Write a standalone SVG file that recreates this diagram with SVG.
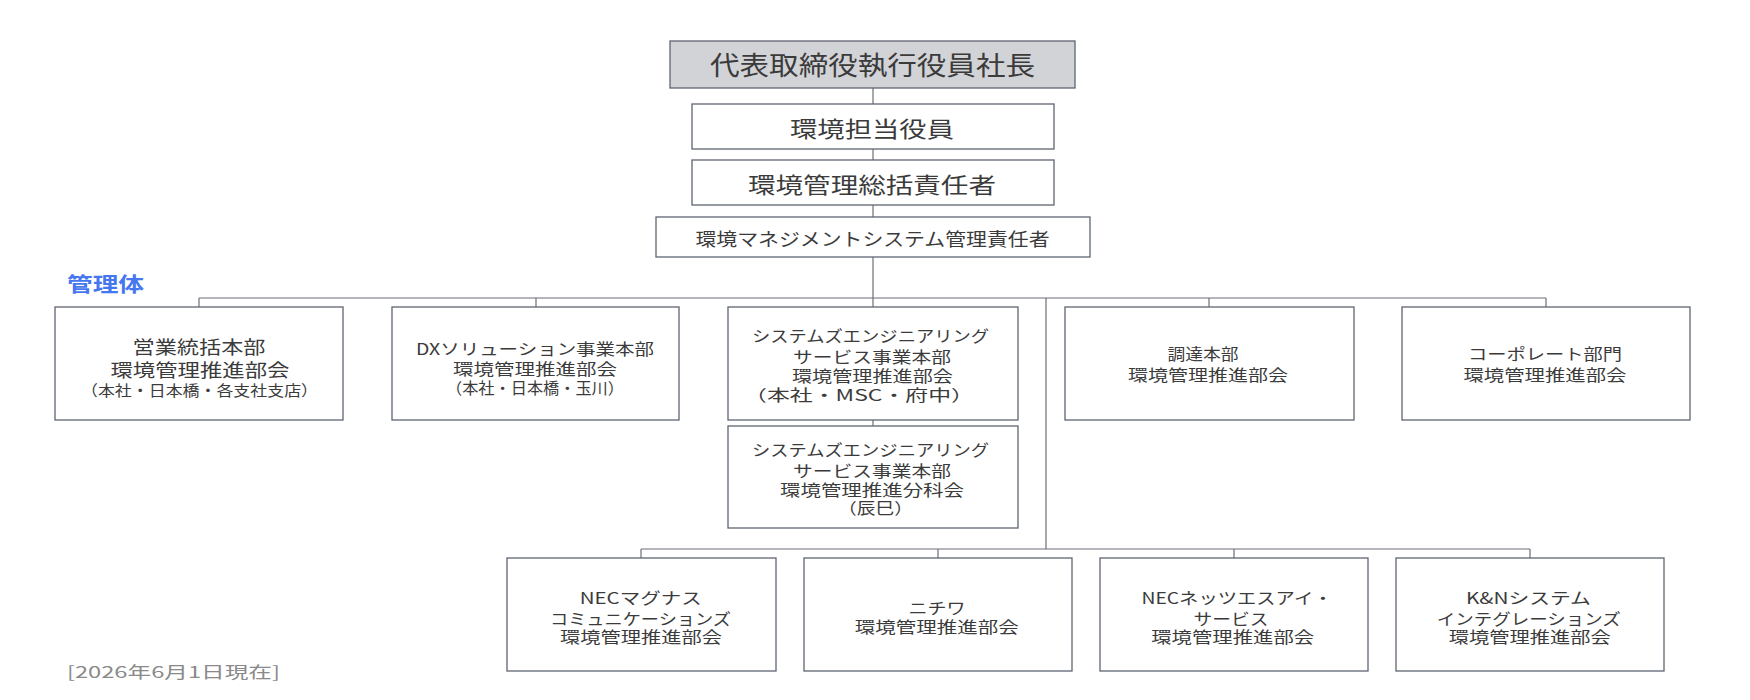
<svg xmlns="http://www.w3.org/2000/svg" width="1750" height="700" viewBox="0 0 1750 700">
<style>
.bg{fill:#ffffff}
.box{fill:#ffffff;stroke:#5f6470;stroke-width:1.3}
.top{fill:#d2d3d7;stroke:#5f6470;stroke-width:1.3}
.ln{stroke:#6b6f78;stroke-width:1.2;fill:none}
text{font-family:"Noto Sans CJK JP","Noto Sans",sans-serif;fill:#3b3b3b;text-anchor:middle}
.f26{font-size:26px}
.f22{font-size:22px}
.f18{font-size:18px}
.fa{font-size:18px}
.fa3{font-size:15px}
.f17{font-size:15.5px}
.lbl{font-size:20px;font-weight:bold;fill:#4677f0;text-anchor:start}
.note{font-size:16px;fill:#8a8a8a;text-anchor:start}
</style>
<rect class="bg" x="0" y="0" width="1750" height="700"/>

<g id="connectors">
<line class="ln" x1="873" y1="88" x2="873" y2="104"/>
<line class="ln" x1="873" y1="149" x2="873" y2="160"/>
<line class="ln" x1="873" y1="205" x2="873" y2="217"/>
<line class="ln" x1="873" y1="257" x2="873" y2="307"/>
<line class="ln" x1="199" y1="298" x2="1546" y2="298"/>
<line class="ln" x1="199" y1="298" x2="199" y2="307"/>
<line class="ln" x1="536" y1="298" x2="536" y2="307"/>
<line class="ln" x1="1209" y1="298" x2="1209" y2="307"/>
<line class="ln" x1="1546" y1="298" x2="1546" y2="307"/>
<line class="ln" x1="873" y1="420" x2="873" y2="426"/>
<line class="ln" x1="1046" y1="298" x2="1046" y2="549"/>
<line class="ln" x1="641" y1="549" x2="1530" y2="549"/>
<line class="ln" x1="641" y1="549" x2="641" y2="558"/>
<line class="ln" x1="938" y1="549" x2="938" y2="558"/>
<line class="ln" x1="1234" y1="549" x2="1234" y2="558"/>
<line class="ln" x1="1530" y1="549" x2="1530" y2="558"/>
</g>

<g id="president">
<rect class="top" x="670" y="41" width="405" height="47"/>
<text class="f26" x="872.5" y="75" textLength="325" lengthAdjust="spacingAndGlyphs">代表取締役執行役員社長</text>
</g>
<g id="env-officer">
<rect class="box" x="692" y="104" width="362" height="45"/>
<text class="f22" x="872" y="136.5" textLength="164" lengthAdjust="spacingAndGlyphs">環境担当役員</text>
</g>
<g id="env-general">
<rect class="box" x="692" y="160" width="362" height="45"/>
<text class="f22" x="872" y="193" textLength="248" lengthAdjust="spacingAndGlyphs">環境管理総括責任者</text>
</g>
<g id="ems-manager">
<rect class="box" x="656" y="217" width="434" height="40"/>
<text class="f18" x="872.5" y="246" textLength="354" lengthAdjust="spacingAndGlyphs">環境マネジメントシステム管理責任者</text>
</g>

<text class="lbl" x="67" y="292" textLength="77" lengthAdjust="spacingAndGlyphs">管理体</text>

<g id="sales">
<rect class="box" x="55" y="307" width="288" height="113"/>
<text class="fa" x="199" y="353.5" textLength="133" lengthAdjust="spacingAndGlyphs">営業統括本部</text>
<text class="fa" x="200" y="376.5" textLength="179" lengthAdjust="spacingAndGlyphs">環境管理推進部会</text>
<text class="fa3" x="199.5" y="395.7" textLength="237" lengthAdjust="spacingAndGlyphs">（本社・日本橋・各支社支店）</text>
</g>
<g id="dx">
<rect class="box" x="392" y="307" width="287" height="113"/>
<text class="f17" x="535" y="355.4" textLength="238" lengthAdjust="spacingAndGlyphs">DXソリューション事業本部</text>
<text class="f17" x="535" y="375.4" textLength="164" lengthAdjust="spacingAndGlyphs">環境管理推進部会</text>
<text class="f17" x="535" y="394" textLength="178" lengthAdjust="spacingAndGlyphs">（本社・日本橋・玉川）</text>
</g>
<g id="se-main">
<rect class="box" x="728" y="307" width="290" height="113"/>
<text class="f17" x="870.5" y="341.9" textLength="237" lengthAdjust="spacingAndGlyphs">システムズエンジニアリング</text>
<text class="f17" x="872" y="363.4" textLength="158" lengthAdjust="spacingAndGlyphs">サービス事業本部</text>
<text class="f17" x="872.5" y="382" textLength="161" lengthAdjust="spacingAndGlyphs">環境管理推進部会</text>
<text class="f17" x="859" y="400.5" textLength="230" lengthAdjust="spacingAndGlyphs">（本社・MSC・府中）</text>
</g>
<g id="se-tatsumi">
<rect class="box" x="728" y="426" width="290" height="102"/>
<text class="f17" x="870.5" y="455.9" textLength="237" lengthAdjust="spacingAndGlyphs">システムズエンジニアリング</text>
<text class="f17" x="872" y="477.4" textLength="158" lengthAdjust="spacingAndGlyphs">サービス事業本部</text>
<text class="f17" x="872" y="495.9" textLength="184" lengthAdjust="spacingAndGlyphs">環境管理推進分科会</text>
<text class="f17" x="875.5" y="514.4" textLength="75" lengthAdjust="spacingAndGlyphs">（辰巳）</text>
</g>
<g id="procurement">
<rect class="box" x="1065" y="307" width="289" height="113"/>
<text class="f17" x="1203" y="360.4" textLength="71" lengthAdjust="spacingAndGlyphs">調達本部</text>
<text class="f17" x="1208" y="381.4" textLength="160" lengthAdjust="spacingAndGlyphs">環境管理推進部会</text>
</g>
<g id="corporate">
<rect class="box" x="1402" y="307" width="288" height="113"/>
<text class="f17" x="1545" y="360.4" textLength="154" lengthAdjust="spacingAndGlyphs">コーポレート部門</text>
<text class="f17" x="1545" y="381.4" textLength="163" lengthAdjust="spacingAndGlyphs">環境管理推進部会</text>
</g>

<g id="magnus">
<rect class="box" x="507" y="558" width="269" height="113"/>
<text class="f17" x="640.7" y="604.4" textLength="122" lengthAdjust="spacingAndGlyphs">NECマグナス</text>
<text class="f17" x="640.5" y="624.9" textLength="181" lengthAdjust="spacingAndGlyphs">コミュニケーションズ</text>
<text class="f17" x="641" y="643.4" textLength="162" lengthAdjust="spacingAndGlyphs">環境管理推進部会</text>
</g>
<g id="nichiwa">
<rect class="box" x="804" y="558" width="268" height="113"/>
<text class="f17" x="937" y="614.4" textLength="57" lengthAdjust="spacingAndGlyphs">ニチワ</text>
<text class="f17" x="936.7" y="633" textLength="164" lengthAdjust="spacingAndGlyphs">環境管理推進部会</text>
</g>
<g id="nesic">
<rect class="box" x="1100" y="558" width="268" height="113"/>
<text class="f17" x="1237" y="604.4" textLength="191" lengthAdjust="spacingAndGlyphs">NECネッツエスアイ・</text>
<text class="f17" x="1231" y="624.9" textLength="75" lengthAdjust="spacingAndGlyphs">サービス</text>
<text class="f17" x="1232.7" y="643.4" textLength="163" lengthAdjust="spacingAndGlyphs">環境管理推進部会</text>
</g>
<g id="kn">
<rect class="box" x="1396" y="558" width="268" height="113"/>
<text class="f17" x="1528.4" y="604.4" textLength="125" lengthAdjust="spacingAndGlyphs">K&amp;Nシステム</text>
<text class="f17" x="1528.8" y="624.9" textLength="184" lengthAdjust="spacingAndGlyphs">インテグレーションズ</text>
<text class="f17" x="1529.8" y="643.4" textLength="162" lengthAdjust="spacingAndGlyphs">環境管理推進部会</text>
</g>

<text class="note" x="67" y="678" textLength="213" lengthAdjust="spacingAndGlyphs">[2026年6月1日現在]</text>
</svg>
